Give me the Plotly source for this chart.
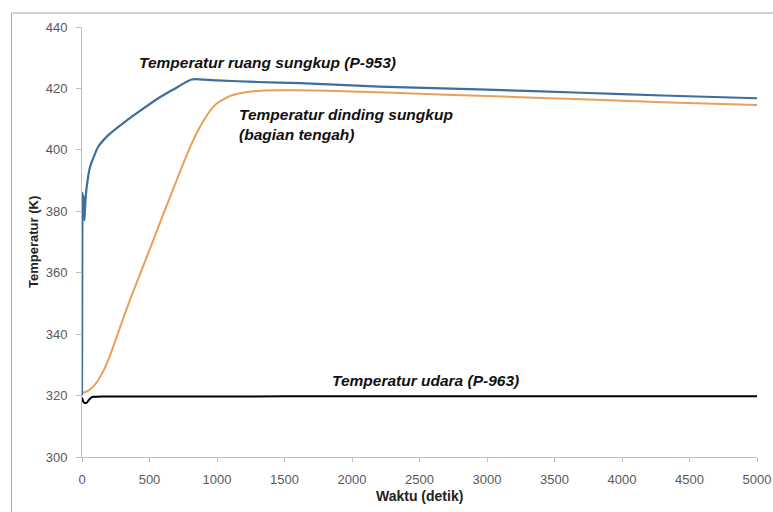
import plotly.graph_objects as go

# Temperatur ruang sungkup (P-953)
t_ruang = [0, 3, 8, 12, 18, 25, 35, 60, 120, 195, 320, 440, 565, 690, 760, 812, 840,
           1000, 1300, 1615, 2200, 3000, 3700, 4300, 5000]
T_ruang = [320, 386, 380, 385, 377, 383, 388, 394.5, 401, 404.8, 409.2, 413, 416.8,
           420, 421.8, 422.9, 423.0, 422.6, 422.1, 421.7, 420.6, 419.6, 418.6, 417.7, 416.8]

# Temperatur dinding sungkup (bagian tengah)
t_dinding = [0, 50, 100, 150, 200, 250, 300, 350, 400, 450, 500, 550, 600, 650, 700,
             750, 800, 850, 900, 950, 1000, 1100, 1200, 1300, 1450, 1600, 2000, 2500,
             3000, 3700, 4300, 5000]
T_dinding = [320.8, 321.7, 323.8, 327.3, 332.2, 338.2, 344.5, 350.5, 356.2, 361.8,
             367.4, 373.1, 378.8, 384.4, 390, 395.5, 400.8, 405.5, 409.5, 412.8,
             415.2, 417.6, 418.7, 419.2, 419.4, 419.4, 419.0, 418.3, 417.5, 416.5,
             415.5, 414.6]

# Temperatur udara (P-963)
t_udara = [0, 10, 20, 35, 50, 70, 90, 150, 500, 1000, 2000, 3000, 4000, 5000]
T_udara = [319.4, 318.0, 317.6, 317.7, 318.5, 319.4, 319.6, 319.7, 319.7, 319.7,
           319.8, 319.8, 319.8, 319.8]

x_ticks = [0, 500, 1000, 1500, 2000, 2500, 3000, 3500, 4000, 4500, 5000]
y_ticks = [300, 320, 340, 360, 380, 400, 420, 440]

fig = go.Figure()
fig.add_trace(go.Scatter(x=t_udara, y=T_udara, mode="lines",
                         line=dict(color="#000000", width=2, shape="spline", smoothing=0.6),
                         name="Temperatur udara (P-963)"))
fig.add_trace(go.Scatter(x=t_dinding, y=T_dinding, mode="lines",
                         line=dict(color="#E8A05A", width=2, shape="spline", smoothing=0.6),
                         name="Temperatur dinding sungkup (bagian tengah)"))
fig.add_trace(go.Scatter(x=t_ruang, y=T_ruang, mode="lines",
                         line=dict(color="#3F6E9E", width=2.2, shape="spline", smoothing=0.5),
                         name="Temperatur ruang sungkup (P-953)"))

ann_font = dict(family="Liberation Sans, Arial, sans-serif", size=15.5, color="#111111",
                weight="bold", style="italic")
annotations = [
    dict(x=407, y=428.6, text="Temperatur ruang sungkup (P-953)", showarrow=False,
         xanchor="left", yanchor="middle", font=ann_font),
    dict(x=1148, y=408.3, text="Temperatur dinding sungkup<br>(bagian tengah)", showarrow=False,
         xanchor="left", yanchor="middle", align="left", font=ann_font),
    dict(x=1837, y=325, text="Temperatur udara (P-963)", showarrow=False,
         xanchor="left", yanchor="middle", font=ann_font),
    dict(x=-0.0726, y=0.5, xref="paper", yref="paper", text="<b>Temperatur (K)</b>",
         showarrow=False, textangle=-90, xanchor="center", yanchor="middle",
         font=dict(family="Liberation Sans, Arial, sans-serif", size=13, color="#222222")),
    dict(x=0.5, y=-0.0907, xref="paper", yref="paper", text="<b>Waktu (detik)</b>",
         showarrow=False, xanchor="center", yanchor="middle",
         font=dict(family="Liberation Sans, Arial, sans-serif", size=14, color="#222222")),
]

tick_font = dict(family="Liberation Sans, Arial, sans-serif", size=13, color="#595959")

fig.update_layout(
    width=773, height=512,
    margin=dict(l=82, r=16, t=27, b=55, autoexpand=False),
    paper_bgcolor="white", plot_bgcolor="white",
    showlegend=False,
    annotations=annotations,
    shapes=[dict(type="rect", xref="paper", yref="paper",
                 x0=-0.1044, x1=1.04, y0=-0.14, y1=1.0326,
                 line=dict(color="#A8A8A8", width=1), layer="below")],
    xaxis=dict(range=[0, 5000], tickvals=x_ticks, ticktext=[str(v) for v in x_ticks],
               showgrid=False, zeroline=False, showline=True, linecolor="#BFBFBF",
               linewidth=1, ticks="outside", ticklen=4, tickcolor="#BFBFBF",
               tickfont=tick_font, ticklabelstandoff=6, automargin=False),
    yaxis=dict(range=[300, 440], tickvals=y_ticks, ticktext=[str(v) for v in y_ticks],
               showgrid=False, zeroline=False, showline=True, linecolor="#BFBFBF",
               linewidth=1, ticks="outside", ticklen=5, tickcolor="#BFBFBF",
               tickfont=tick_font, ticklabelstandoff=6, automargin=False),
)

fig.write_html("out.html")
